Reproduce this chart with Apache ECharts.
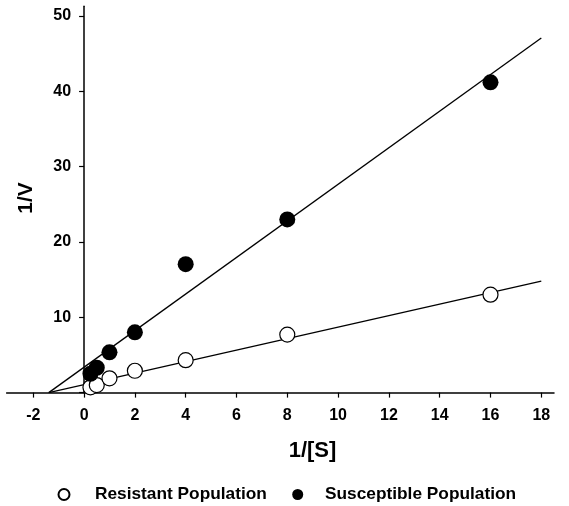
<!DOCTYPE html>
<html>
<head>
<meta charset="utf-8">
<script src="https://cdn.jsdelivr.net/npm/echarts@6/dist/echarts.min.js"></script>
<style>
html,body{margin:0;padding:0;background:#fff;}
#main{width:569px;height:506px;}
</style>
</head>
<body>
<div id="main"></div>
<script>
const xValues = [0.25, 0.5, 1, 2, 4, 8, 16];
const resistant = [0.7, 1.0, 1.9, 2.9, 4.3, 7.7, 13.0];
const susceptible = [2.5, 3.3, 5.35, 8.0, 17.05, 23.0, 41.2];
const resistantFit = [[-1.39, 0], [18, 14.8]];
const susceptibleFit = [[-1.39, 0], [18, 47.1]];
const xTicks = [-2, 0, 2, 4, 6, 8, 10, 12, 14, 16, 18];

const FONT = 'Liberation Sans, Arial, sans-serif';
const chart = echarts.init(document.getElementById('main'), null, {renderer: 'canvas'});
const pts = arr => xValues.map((x, i) => [x, arr[i]]);

const X_MIN = -3.05, X_MAX = 18.5, GRID_LEFT = 6.6, GRID_RIGHT = 15;
const pxPerUnit = (569 - GRID_LEFT - GRID_RIGHT) / (X_MAX - X_MIN);
const yAxisOffset = -(0 - X_MIN) * pxPerUnit; // place y axis line at x = 0

chart.setOption({
  backgroundColor: '#fff',
  animation: false,
  grid: {left: GRID_LEFT, right: GRID_RIGHT, top: 6.3, bottom: 113.4, outerBoundsMode: 'none'},
  xAxis: {
    type: 'value', min: X_MIN, max: X_MAX,
    axisLine: {onZero: false, lineStyle: {color: '#000', width: 1.5}},
    axisTick: {show: true, customValues: xTicks, length: 5, lineStyle: {color: '#000', width: 1.2}},
    axisLabel: {customValues: xTicks, color: '#000', fontWeight: 'bold', fontSize: 16, fontFamily: FONT, margin: 15},
    splitLine: {show: false}
  },
  yAxis: {
    type: 'value', min: 0, max: 51.3, interval: 10, position: 'left', offset: yAxisOffset,
    axisLine: {show: true, onZero: false, lineStyle: {color: '#000', width: 1.5}},
    axisTick: {show: true, length: 5, lineStyle: {color: '#000', width: 1.2}},
    axisLabel: {show: true, color: '#000', fontWeight: 'bold', fontSize: 16, fontFamily: FONT, margin: 13,
      formatter: v => (v === 0 ? '' : String(v))},
    splitLine: {show: false}
  },
  legend: [
    {data: ['Resistant Population'], left: 57.5, top: 486, padding: 0, itemWidth: 11, itemHeight: 11,
     textStyle: {color: '#000', fontWeight: 'bold', fontSize: 17.3, fontFamily: FONT, padding: [0, 0, 0, 20.5]}},
    {data: ['Susceptible Population'], left: 292.2, top: 486, padding: 0, itemWidth: 11, itemHeight: 11,
     textStyle: {color: '#000', fontWeight: 'bold', fontSize: 17.3, fontFamily: FONT, padding: [0, 0, 0, 16.8]}}
  ],
  graphic: [
    {type: 'text', x: 26, y: 198, rotation: Math.PI / 2,
     style: {text: '1/V', fill: '#000', font: 'bold 21px ' + FONT, align: 'center', verticalAlign: 'middle'}},
    {type: 'text', x: 312.5, y: 451,
     style: {text: '1/[S]', fill: '#000', font: 'bold 22px ' + FONT, align: 'center', verticalAlign: 'middle'}}
  ],
  series: [
    {name: 'resistantFit', type: 'line', data: resistantFit, symbol: 'none', silent: true,
     lineStyle: {color: '#000', width: 1.3}, z: 1},
    {name: 'susceptibleFit', type: 'line', data: susceptibleFit, symbol: 'none', silent: true,
     lineStyle: {color: '#000', width: 1.3}, z: 1},
    {name: 'Resistant Population', type: 'scatter', data: pts(resistant), symbol: 'circle', symbolSize: 15,
     itemStyle: {color: '#fff', borderColor: '#000', borderWidth: 1.2, opacity: 1}, z: 3},
    {name: 'Susceptible Population', type: 'scatter', data: pts(susceptible), symbol: 'circle', symbolSize: 16,
     itemStyle: {color: '#000', borderColor: '#000', borderWidth: 0, opacity: 1}, z: 4}
  ]
});
</script>
</body>
</html>
